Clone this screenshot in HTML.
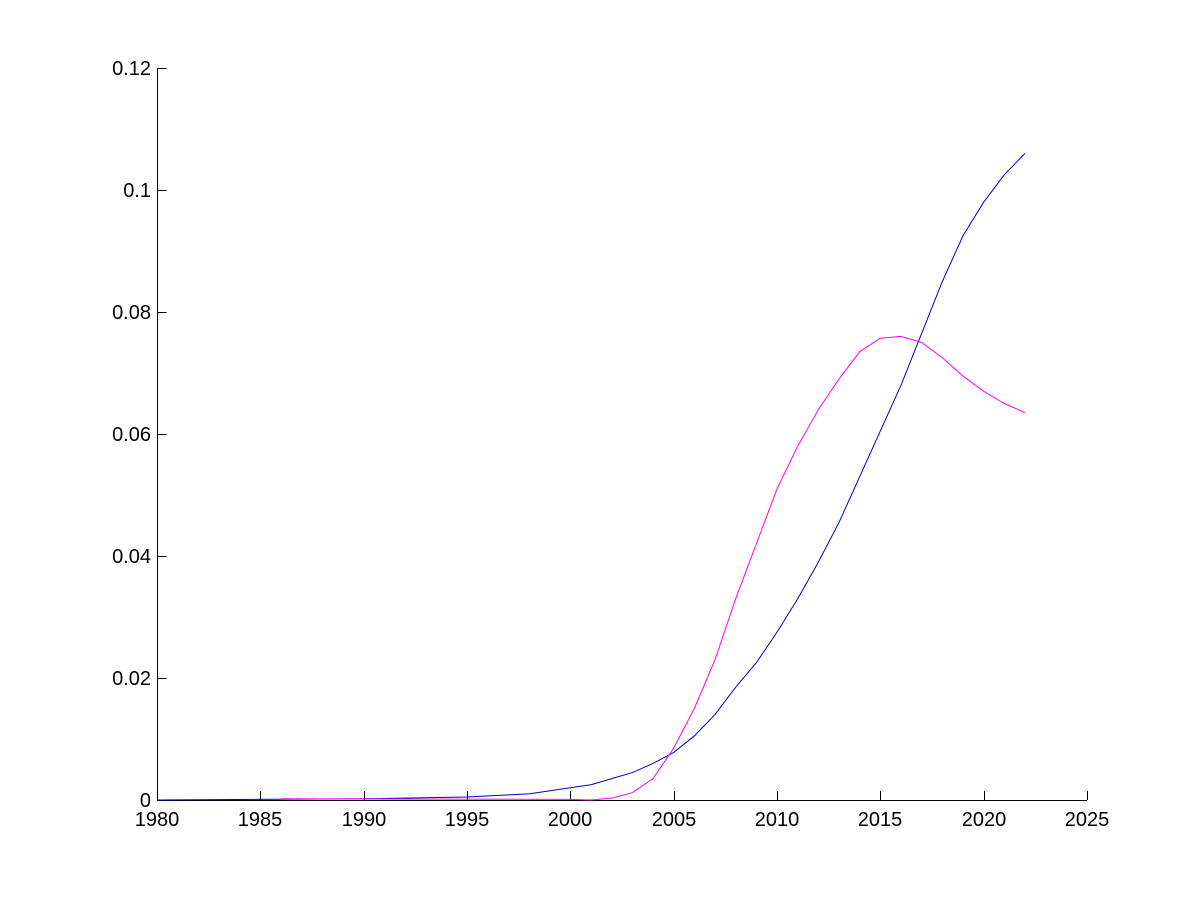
<!DOCTYPE html>
<html><head><style>body{margin:0;background:#fff}</style></head><body>
<svg width="1200" height="900" xmlns="http://www.w3.org/2000/svg" font-family="Liberation Sans, sans-serif" font-size="20">
<rect width="1200" height="900" fill="#fff"/>
<g stroke="#000" stroke-width="1" fill="none">
<line x1="157.5" y1="68" x2="157.5" y2="800.5"/>
<line x1="157" y1="800.5" x2="1087" y2="800.5"/>
<path d="M157.5 68.5h9M157.5 190.5h9M157.5 312.5h9M157.5 434.5h9M157.5 556.5h9M157.5 678.5h9"/>
<path d="M260.5 800v-9M364.5 800v-9M467.5 800v-9M570.5 800v-9M674.5 800v-9M777.5 800v-9M880.5 800v-9M984.5 800v-9M1087.5 800v-9"/>
</g>
<g text-anchor="end">
<text x="151" y="75">0.12</text><text x="151" y="197">0.1</text><text x="151" y="319">0.08</text>
<text x="151" y="441">0.06</text><text x="151" y="563">0.04</text><text x="151" y="685">0.02</text><text x="151" y="807">0</text>
</g>
<g text-anchor="middle">
<text x="157" y="826">1980</text><text x="260" y="826">1985</text><text x="364" y="826">1990</text>
<text x="467" y="826">1995</text><text x="570" y="826">2000</text><text x="674" y="826">2005</text>
<text x="777" y="826">2010</text><text x="880" y="826">2015</text><text x="984" y="826">2020</text><text x="1087" y="826">2025</text>
</g>
<g transform="translate(157,800) scale(20.667,-6100) translate(-1980,0)" fill="none">
<polyline vector-effect="non-scaling-stroke" stroke="#0000cc" stroke-width="1" points="1980,0 1990,0.0002 1995,0.0005 1998,0.001 2000,0.002 2001,0.0025 2002,0.0035 2003,0.0045 2004,0.006 2005,0.0078 2006,0.0105 2007,0.014 2008,0.0185 2009,0.0225 2010,0.0275 2011,0.033 2012,0.039 2013,0.0455 2014,0.053 2015,0.0605 2016,0.068 2017,0.0765 2018,0.085 2019,0.0925 2020,0.098 2021,0.1025 2022,0.106"/>
<polyline vector-effect="non-scaling-stroke" stroke="#ff00ff" stroke-width="1" points="1986,0.0002 2000,0.0001 2001,0 2002,0.0003 2003,0.0012 2004,0.0035 2005,0.0085 2006,0.015 2007,0.023 2008,0.033 2009,0.042 2010,0.051 2011,0.058 2012,0.064 2013,0.069 2014,0.0735 2015,0.0757 2016,0.076 2017,0.075 2018,0.0725 2019,0.0695 2020,0.067 2021,0.065 2022,0.0635"/>
</g>
</svg>
</body></html>
